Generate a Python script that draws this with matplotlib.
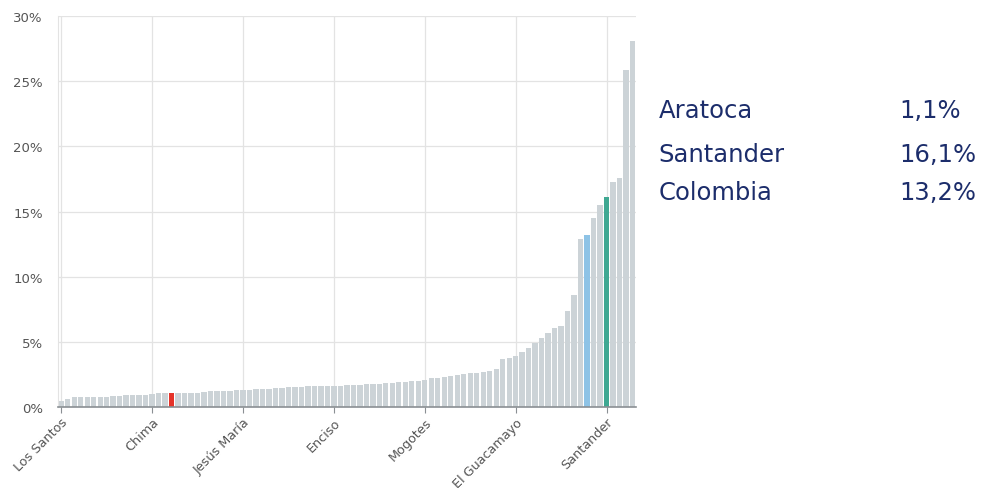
"""Bar ranking of municipalities with a side summary of three values."""

import matplotlib.pyplot as plt
import numpy as np

# share per municipality, sorted ascending (percent)
values = [
    0.5, 0.65, 0.75, 0.75, 0.75, 0.75, 0.75, 0.8, 0.85, 0.85,
    0.9, 0.95, 0.95, 0.95, 1.0, 1.05, 1.1, 1.1, 1.1, 1.1,
    1.1, 1.1, 1.15, 1.2, 1.2, 1.2, 1.25, 1.3, 1.3, 1.3,
    1.35, 1.35, 1.4, 1.45, 1.45, 1.5, 1.5, 1.55, 1.6, 1.6,
    1.6, 1.65, 1.65, 1.65, 1.7, 1.7, 1.7, 1.75, 1.8, 1.8,
    1.85, 1.85, 1.9, 1.95, 2.0, 2.0, 2.05, 2.25, 2.25, 2.3,
    2.4, 2.45, 2.55, 2.6, 2.6, 2.65, 2.8, 2.95, 3.7, 3.8,
    3.95, 4.2, 4.5, 4.9, 5.3, 5.7, 6.05, 6.2, 7.35, 8.6,
    12.9, 13.2, 14.5, 15.5, 16.1, 17.3, 17.6, 25.9, 28.1,
]
tick_index = [0, 14, 28, 42, 56, 70, 84]
tick_labels = ["Los Santos", "Chima", "Jesús María", "Enciso",
               "Mogotes", "El Guacamayo", "Santander"]
highlight = {17: "#e5332a", 81: "#8ec3e6", 84: "#3fa892"}

summary_names = ["Aratoca", "Santander", "Colombia"]
summary_values = ["1,1%", "16,1%", "13,2%"]

BAR_GRAY = "#ccd3d7"
GRID = "#e3e3e3"
TEXT_GRAY = "#555555"
NAVY = "#1c2d6b"


def main() -> None:
    fig = plt.figure(figsize=(9.86, 4.89), dpi=100)
    ax = fig.add_axes([0.0588, 0.1656, 0.586, 0.7994])

    x = np.arange(len(values))
    colors = [highlight.get(i, BAR_GRAY) for i in x]
    ax.bar(x, values, width=0.82, color=colors, zorder=2)

    ax.set_xlim(-0.5, len(values) - 0.5)
    ax.set_ylim(0, 30)
    ax.set_yticks(np.arange(0, 31, 5))
    ax.set_yticklabels([f"{v}%" for v in range(0, 31, 5)])
    ax.set_xticks(tick_index)
    ax.set_xticklabels(tick_labels, rotation=45, ha="right",
                       rotation_mode="anchor")

    ax.grid(True, color=GRID, linewidth=0.9, zorder=0)
    ax.set_axisbelow(True)
    for side in ["top", "right"]:
        ax.spines[side].set_visible(False)
    ax.spines["left"].set_color(GRID)
    ax.spines["bottom"].set_color("#8a8f93")
    ax.spines["bottom"].set_linewidth(1.2)
    ax.tick_params(axis="y", length=0, labelsize=9.5, colors=TEXT_GRAY, pad=11)
    ax.tick_params(axis="x", length=4, color="#8a8f93", labelsize=9.2,
                   labelcolor=TEXT_GRAY, pad=2)

    rows_y = [0.772, 0.683, 0.605]
    for name, val, yy in zip(summary_names, summary_values, rows_y):
        fig.text(0.668, yy, name, fontsize=17.5, color=NAVY,
                 family="DejaVu Sans", va="center")
        fig.text(0.912, yy, val, fontsize=17.5, color=NAVY,
                 family="DejaVu Sans", va="center")

    fig.savefig("out.png", dpi=100, facecolor="white")
    plt.close(fig)


if __name__ == "__main__":
    main()
